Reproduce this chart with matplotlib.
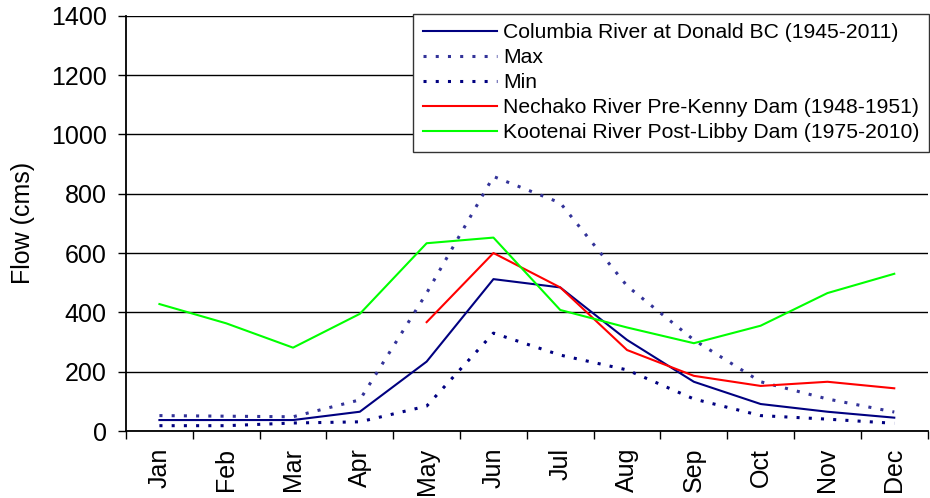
import matplotlib
matplotlib.use("Agg")
import matplotlib.pyplot as plt
import numpy as np

plt.rcParams['font.family'] = ['Liberation Sans', 'DejaVu Sans']

months = ["Jan", "Feb", "Mar", "Apr", "May", "Jun", "Jul", "Aug", "Sep", "Oct", "Nov", "Dec"]
columbia_mean = [37, 37, 37, 65, 234, 512, 484, 307, 166, 91, 65, 45]
columbia_max = [52, 50, 48, 105, 465, 858, 769, 489, 307, 166, 108, 64]
columbia_min = [18, 18, 27, 31, 84, 330, 256, 206, 108, 52, 40, 26]
nechako = [None, None, None, None, 367, 600, 484, 273, 186, 152, 166, 144]
kootenai = [428, 363, 281, 395, 633, 652, 408, 349, 296, 355, 465, 530]

labels = ["Columbia River at Donald BC (1945-2011)", "Max", "Min",
          "Nechako River Pre-Kenny Dam (1948-1951)",
          "Kootenai River Post-Libby Dam (1975-2010)"]

fig = plt.figure(figsize=(9.3, 4.98), dpi=100)
ax = fig.add_axes([0.1355, 0.1345, 0.862, 0.834])

x = np.arange(len(months))
nech = np.array([np.nan if v is None else v for v in nechako], dtype=float)

ax.plot(x, columbia_mean, color="#000080", lw=1.5, label=labels[0])
ax.plot(x, columbia_max, color="#333399", lw=2.2, linestyle=(0, (1, 3)), label=labels[1])
ax.plot(x, columbia_min, color="#000080", lw=2.2, linestyle=(0, (1, 3)), label=labels[2])
ax.plot(x, nech, color="#ff0000", lw=1.5, label=labels[3])
ax.plot(x, kootenai, color="#00ff00", lw=1.5, label=labels[4])

ax.set_xlim(-0.5, len(months) - 0.5)
ax.set_ylim(0, 1400)
ax.set_yticks(np.arange(0, 1401, 200))
ax.yaxis.grid(True, color="black", lw=1.0)
ax.set_axisbelow(True)

ax.set_xticks(np.arange(-0.5, len(months), 1.0))
ax.set_xticklabels([])
ax.set_xticks(x, minor=True)
ax.set_xticklabels(months, minor=True, rotation=90, fontsize=18)
ax.tick_params(axis='x', which='major', length=6, width=1, direction='out')
ax.tick_params(axis='x', which='minor', length=0, pad=12)
ax.tick_params(axis='y', length=6, width=1, direction='out', labelsize=18, pad=8)

for s in ["top", "right"]:
    ax.spines[s].set_visible(False)
ax.spines["left"].set_linewidth(1.3)
ax.spines["bottom"].set_linewidth(1.3)

ax.set_ylabel("Flow (cms)", fontsize=18, labelpad=11)

leg = ax.legend(loc="upper right", bbox_to_anchor=(0.999, 0.972),
                bbox_transform=fig.transFigure, fontsize=15.2,
                frameon=True, fancybox=False, edgecolor="#333333", framealpha=1,
                handlelength=3.5, handletextpad=0.3, borderpad=0.45,
                labelspacing=0.28, borderaxespad=0)
leg.get_frame().set_linewidth(1.0)

fig.savefig("out.png", dpi=100)
